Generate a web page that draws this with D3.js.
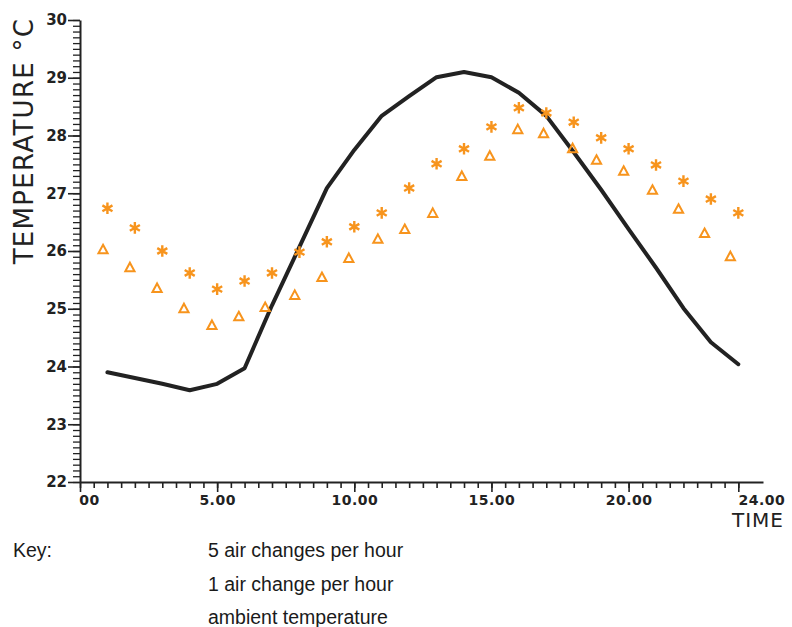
<!DOCTYPE html>
<html lang="en">
<head>
    <meta charset="UTF-8">
    <title>Temperature over time</title>
    <script src="https://cdn.jsdelivr.net/npm/d3@7"></script>
    <style>
        body { margin: 0; background: #fff; }
        .tick-label { font-family: "DejaVu Sans", sans-serif; font-weight: bold; fill: #222; }
        .axis-title { font-family: "DejaVu Sans", sans-serif; fill: #222; }
        .key { font-family: "Liberation Sans", Arial, sans-serif; font-size: 19.5px; fill: #1a1a1a; }
    </style>
</head>
<body>
<svg id="chart" width="792" height="627"></svg>
<script>
    // hours of day
    const hours = [1, 2, 3, 4, 5, 6, 7, 8, 9, 10, 11, 12, 13, 14, 15, 16, 17, 18, 19, 20, 21, 22, 23, 24];
    // triangles sit a little left of the hour in the original
    const triHours = [0.84, 1.82, 2.81, 3.79, 4.81, 5.79, 6.75, 7.83, 8.82, 9.8, 10.86, 11.84,
                      12.86, 13.92, 14.94, 15.96, 16.9, 17.96, 18.83, 19.82, 20.87, 21.82, 22.77, 23.71];

    // 1 air change per hour (asterisks)
    const oneAirChange = [26.74, 26.40, 26.00, 25.62, 25.34, 25.48, 25.62, 25.98, 26.16, 26.42, 26.66, 27.09,
                          27.51, 27.77, 28.15, 28.48, 28.39, 28.23, 27.96, 27.77, 27.49, 27.21, 26.90, 26.66];
    // 5 air changes per hour (triangles)
    const fiveAirChanges = [26.03, 25.72, 25.36, 25.01, 24.72, 24.87, 25.03, 25.24, 25.55, 25.88, 26.21, 26.38,
                            26.66, 27.30, 27.65, 28.11, 28.04, 27.78, 27.58, 27.39, 27.06, 26.73, 26.31, 25.91];
    // ambient temperature (black line)
    const ambient = [23.90, 23.80, 23.70, 23.59, 23.70, 23.97, 25.06, 26.07, 27.09, 27.75, 28.34, 28.68,
                     29.01, 29.10, 29.01, 28.74, 28.34, 27.71, 27.06, 26.38, 25.71, 25.01, 24.42, 24.04];

    const xTicks = [0, 5, 10, 15, 20, 24];
    const xTickLabels = ["00", "5.00", "10.00", "15.00", "20.00", "24.00"];
    const yTicks = [22, 23, 24, 25, 26, 27, 28, 29, 30];
    const keyLabels = ["5 air changes per hour", "1 air change per hour", "ambient temperature"];

    const orange = "#f7941d";
    const ink = "#222";

    const svg = d3.select("#chart");

    const x = d3.scaleLinear().domain([0, 24.9]).range([80, 763]);
    const y = d3.scaleLinear().domain([22, 30]).range([482, 20]);

    // x axis: half hour minor ticks, then labelled majors
    const xMinor = svg.append("g")
        .attr("transform", `translate(0,${y(22)})`)
        .call(d3.axisBottom(x).tickValues(d3.range(0, 24.01, 0.5)).tickSize(6).tickSizeOuter(0).tickFormat(""));
    xMinor.select(".domain").attr("stroke", ink).attr("stroke-width", 2);
    xMinor.selectAll(".tick line").attr("stroke", ink).attr("stroke-width", 1.6);

    const xMajor = svg.append("g")
        .attr("transform", `translate(0,${y(22)})`)
        .call(d3.axisBottom(x).tickValues(xTicks).tickSize(10).tickPadding(3)
            .tickFormat((d, i) => xTickLabels[i]));
    xMajor.select(".domain").remove();
    xMajor.selectAll(".tick line").attr("stroke", ink).attr("stroke-width", 1.6);
    xMajor.selectAll(".tick text")
        .attr("class", "tick-label")
        .style("font-size", "14px")
        .style("letter-spacing", "0.5px")
        .attr("dx", d => d === 0 ? 9 : d === 24 ? 23 : 0);

    // y axis: 0.1 degree ladder, then labelled majors
    const yMinor = svg.append("g")
        .attr("transform", `translate(${x(0)},0)`)
        .call(d3.axisLeft(y).tickValues(d3.range(220, 301, 1).map(v => v / 10)).tickSize(7).tickSizeOuter(0).tickFormat(""));
    yMinor.select(".domain").attr("stroke", ink).attr("stroke-width", 2);
    yMinor.selectAll(".tick line").attr("stroke", ink).attr("stroke-width", 1.3);

    const yMajor = svg.append("g")
        .attr("transform", `translate(${x(0)},0)`)
        .call(d3.axisLeft(y).tickValues(yTicks).tickSize(12).tickPadding(1).tickFormat(d3.format("d")));
    yMajor.select(".domain").remove();
    yMajor.selectAll(".tick line").attr("stroke", ink).attr("stroke-width", 1.6);
    yMajor.selectAll(".tick text")
        .attr("class", "tick-label")
        .style("font-size", "15px");

    // axis titles
    svg.append("text")
        .attr("class", "axis-title")
        .attr("transform", "translate(33,141) rotate(-90)")
        .attr("text-anchor", "middle")
        .style("font-size", "26px")
        .style("letter-spacing", "1.3px")
        .text("TEMPERATURE °C");

    svg.append("text")
        .attr("class", "axis-title")
        .attr("x", 784)
        .attr("y", 527)
        .attr("text-anchor", "end")
        .style("font-size", "20px")
        .style("letter-spacing", "1px")
        .text("TIME");

    // ambient line
    const line = d3.line()
        .x((d, i) => x(hours[i]))
        .y(d => y(d));

    svg.append("path")
        .datum(ambient)
        .attr("fill", "none")
        .attr("stroke", ink)
        .attr("stroke-width", 4)
        .attr("stroke-linejoin", "round")
        .attr("stroke-linecap", "round")
        .attr("d", line);

    // triangles
    const tri = "M0,-4.5L4.6,4L-4.6,4Z";
    svg.selectAll(".tri")
        .data(fiveAirChanges)
        .enter()
        .append("path")
        .attr("class", "tri")
        .attr("d", tri)
        .attr("transform", (d, i) => `translate(${x(triHours[i])},${y(d)})`)
        .attr("fill", "none")
        .attr("stroke", orange)
        .attr("stroke-width", 2);

    // asterisks
    const star = d3.symbol().type(d3.symbolAsterisk).size(95);
    svg.selectAll(".star")
        .data(oneAirChange)
        .enter()
        .append("path")
        .attr("class", "star")
        .attr("d", star)
        .attr("transform", (d, i) => `translate(${x(hours[i])},${y(d)})`)
        .attr("fill", "none")
        .attr("stroke", orange)
        .attr("stroke-width", 2.4);

    // key (text only, as in the original)
    svg.append("text").attr("class", "key").attr("x", 13).attr("y", 557).text("Key:");
    svg.selectAll(".key-row")
        .data(keyLabels)
        .enter()
        .append("text")
        .attr("class", "key key-row")
        .attr("x", 208)
        .attr("y", (d, i) => 557 + i * 33.5)
        .text(d => d);
</script>
</body>
</html>
